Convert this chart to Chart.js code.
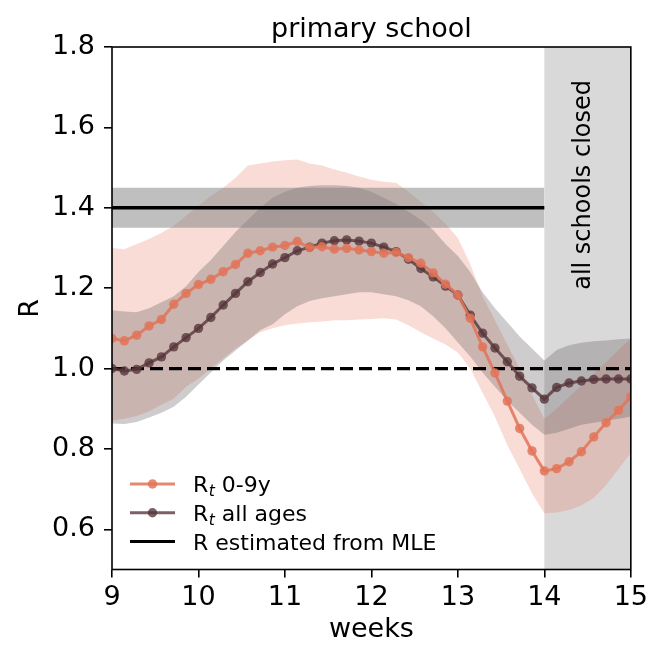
<!DOCTYPE html>
<html>
<head>
<meta charset="utf-8">
<script src="https://cdn.jsdelivr.net/npm/chart.js@4.4.1/dist/chart.umd.min.js"></script>
<style>
  html, body { margin: 0; padding: 0; background: #fff; }
  canvas { display: block; }
</style>
</head>
<body>
<canvas id="rtChart" width="652" height="646"></canvas>
<script>
const startWeek = 9;
const closureWeeks = [14, 15];
const mleWeeks = [9, 14];
const rMle = 1.4;
const rMleBand = [1.35, 1.45];
const rThreshold = 1.0;
const xTicks = [9, 10, 11, 12, 13, 14, 15];
const yTicks = [0.6, 0.8, 1.0, 1.2, 1.4, 1.6, 1.8];

// daily R_t for children 0-9y, with its interval
const rt09 = [1.075, 1.069, 1.083, 1.106, 1.122, 1.160, 1.187, 1.209, 1.222, 1.241,
  1.259, 1.287, 1.293, 1.302, 1.306, 1.316, 1.301, 1.303, 1.297, 1.299,
  1.295, 1.291, 1.287, 1.289, 1.276, 1.262, 1.238, 1.210, 1.183, 1.125,
  1.054, 0.989, 0.919, 0.851, 0.795, 0.745, 0.751, 0.768, 0.793, 0.830,
  0.865, 0.896, 0.930];
const rt09High = [1.300, 1.297, 1.310, 1.322, 1.337, 1.355, 1.380, 1.405, 1.430, 1.450,
  1.475, 1.505, 1.510, 1.515, 1.518, 1.520, 1.510, 1.505, 1.495, 1.487,
  1.478, 1.470, 1.465, 1.462, 1.440, 1.415, 1.390, 1.360, 1.325, 1.260,
  1.180, 1.120, 1.060, 1.000, 0.935, 0.875, 0.900, 0.930, 0.958, 0.987,
  1.016, 1.046, 1.075];
const rt09Low = [0.871, 0.875, 0.882, 0.893, 0.910, 0.925, 0.955, 0.975, 1.000, 1.025,
  1.050, 1.070, 1.090, 1.100, 1.108, 1.112, 1.115, 1.117, 1.120, 1.120,
  1.122, 1.123, 1.125, 1.122, 1.108, 1.090, 1.075, 1.060, 1.040, 1.000,
  0.940, 0.880, 0.810, 0.750, 0.690, 0.640, 0.642, 0.648, 0.660, 0.678,
  0.710, 0.750, 0.790];

// daily R_t for all ages, with its interval
const rtAll = [1.000, 0.994, 0.998, 1.014, 1.029, 1.054, 1.077, 1.100, 1.127, 1.158,
  1.187, 1.216, 1.239, 1.260, 1.276, 1.293, 1.302, 1.312, 1.318, 1.320,
  1.317, 1.312, 1.302, 1.291, 1.272, 1.249, 1.228, 1.205, 1.183, 1.133,
  1.088, 1.051, 1.017, 0.981, 0.952, 0.924, 0.953, 0.964, 0.969, 0.973,
  0.974, 0.974, 0.974];
const rtAllHigh = [1.145, 1.142, 1.140, 1.150, 1.165, 1.180, 1.205, 1.240, 1.270, 1.305,
  1.340, 1.370, 1.400, 1.425, 1.440, 1.450, 1.454, 1.456, 1.456, 1.454,
  1.450, 1.440, 1.425, 1.410, 1.390, 1.370, 1.345, 1.310, 1.280, 1.240,
  1.190, 1.150, 1.115, 1.080, 1.050, 1.020, 1.046, 1.058, 1.064, 1.068,
  1.070, 1.073, 1.075];
const rtAllLow = [0.863, 0.862, 0.867, 0.878, 0.890, 0.905, 0.930, 0.960, 0.990, 1.020,
  1.045, 1.070, 1.095, 1.110, 1.135, 1.155, 1.168, 1.175, 1.180, 1.185,
  1.190, 1.190, 1.185, 1.180, 1.170, 1.155, 1.130, 1.100, 1.065, 1.030,
  0.990, 0.955, 0.920, 0.890, 0.860, 0.835, 0.840, 0.850, 0.860, 0.865,
  0.870, 0.875, 0.880];

const FONT = '"DejaVu Sans", "Liberation Sans", sans-serif';
const orange = 'rgba(226,116,88,0.85)';
const orangeBand = 'rgba(226,116,88,0.25)';
const dark = 'rgba(85,52,58,0.78)';
const darkBand = 'rgba(105,95,100,0.32)';

// one point per day
const weeks = rt09.map((_, day) => startWeek + day / 7);
const toPoints = vals => vals.map((y, i) => ({ x: weeks[i], y: y }));
const flat = (xs, y) => xs.map(x => ({ x: x, y: y }));

const bandStyle = { borderWidth: 0, borderColor: 'transparent', pointRadius: 0 };

const decorations = {
  id: 'decorations',
  beforeDatasetsDraw(chart) {
    const { ctx, chartArea: a, scales: { x } } = chart;
    const x0 = x.getPixelForValue(closureWeeks[0]);
    const x1 = x.getPixelForValue(closureWeeks[1]);
    ctx.save();
    ctx.fillStyle = '#d9d9d9';
    ctx.fillRect(x0, a.top, x1 - x0, a.bottom - a.top);
    ctx.translate(x0 + 46, a.top + 33);
    ctx.rotate(-Math.PI / 2);
    ctx.fillStyle = '#000';
    ctx.font = '24px ' + FONT;
    ctx.textAlign = 'right';
    ctx.textBaseline = 'alphabetic';
    ctx.fillText('all schools closed', 0, 0);
    ctx.restore();
  },
  afterDraw(chart) {
    const { ctx, chartArea: a } = chart;
    ctx.save();
    // frame
    ctx.strokeStyle = '#000';
    ctx.lineWidth = 1.6;
    ctx.strokeRect(a.left, a.top, a.right - a.left, a.bottom - a.top);

    // title
    ctx.fillStyle = '#000';
    ctx.font = '27px ' + FONT;
    ctx.textAlign = 'center';
    ctx.textBaseline = 'alphabetic';
    ctx.fillText('primary school', (a.left + a.right) / 2, a.top - 10);

    // legend
    const rows = [
      { color: orange, marker: true, main: 'R', sub: 't', rest: ' 0-9y' },
      { color: dark, marker: true, main: 'R', sub: 't', rest: ' all ages' },
      { color: '#000', marker: false, main: 'R estimated from MLE' }
    ];
    const lx0 = a.left + 18, lx1 = a.left + 63, tx = a.left + 81;
    rows.forEach((row, i) => {
      const y = 484 + i * 28.8;
      ctx.strokeStyle = row.color;
      ctx.lineWidth = 3;
      ctx.beginPath();
      ctx.moveTo(lx0, y);
      ctx.lineTo(lx1, y);
      ctx.stroke();
      if (row.marker) {
        ctx.fillStyle = row.color;
        ctx.beginPath();
        ctx.arc((lx0 + lx1) / 2, y, 4.7, 0, Math.PI * 2);
        ctx.fill();
      }
      ctx.fillStyle = '#000';
      ctx.textAlign = 'left';
      ctx.font = '22px ' + FONT;
      let cx = tx;
      ctx.fillText(row.main, cx, y + 8);
      cx += ctx.measureText(row.main).width;
      if (row.sub) {
        ctx.font = 'italic 15.5px ' + FONT;
        ctx.fillText(row.sub, cx + 0.5, y + 12);
        cx += ctx.measureText(row.sub).width + 0.5;
        ctx.font = '22px ' + FONT;
        ctx.fillText(row.rest, cx, y + 8);
      }
    });
    ctx.restore();
  }
};

const tickFont = { family: FONT, size: 27 };
const grid = { drawOnChartArea: false, color: '#000', lineWidth: 1.6, tickLength: 8 };

new Chart(document.getElementById('rtChart'), {
  type: 'line',
  data: {
    datasets: [
      { label: 'rt09High', data: toPoints(rt09High), fill: '+1', backgroundColor: orangeBand, order: 6, ...bandStyle },
      { label: 'rt09Low', data: toPoints(rt09Low), fill: false, order: 6, ...bandStyle },
      { label: 'rtAllHigh', data: toPoints(rtAllHigh), fill: '+1', backgroundColor: darkBand, order: 5, ...bandStyle },
      { label: 'rtAllLow', data: toPoints(rtAllLow), fill: false, order: 5, ...bandStyle },
      { label: 'mleHigh', data: flat(mleWeeks, rMleBand[1]), fill: '+1', backgroundColor: 'rgba(128,128,128,0.5)', order: 4, ...bandStyle },
      { label: 'mleLow', data: flat(mleWeeks, rMleBand[0]), fill: false, order: 4, ...bandStyle },
      { label: 'R estimated from MLE', data: flat(mleWeeks, rMle), borderColor: '#000', borderWidth: 3.3, pointRadius: 0, order: 3 },
      { label: 'R = 1', data: flat([xTicks[0], xTicks[xTicks.length - 1]], rThreshold), borderColor: '#000', borderWidth: 3.3, borderDash: [13, 6], pointRadius: 0, order: 2 },
      { label: 'Rt all ages', data: toPoints(rtAll), borderColor: dark, backgroundColor: dark, borderWidth: 3, pointRadius: 4.7, pointBorderWidth: 0, order: 1 },
      { label: 'Rt 0-9y', data: toPoints(rt09), borderColor: orange, backgroundColor: orange, borderWidth: 3, pointRadius: 4.7, pointBorderWidth: 0, order: 0 }
    ]
  },
  options: {
    responsive: false,
    devicePixelRatio: 1,
    animation: false,
    events: [],
    layout: { padding: { left: 0, right: 20, top: 47, bottom: 0 } },
    plugins: {
      legend: { display: false },
      tooltip: { enabled: false }
    },
    scales: {
      x: {
        type: 'linear',
        min: 9,
        max: 15,
        afterFit: s => { s.height = 76.5; },
        afterBuildTicks: s => { s.ticks = xTicks.map(v => ({ value: v })); },
        ticks: { color: '#000', font: tickFont, padding: 4, maxRotation: 0, autoSkip: false, callback: v => String(v) },
        grid: grid,
        border: { display: false },
        title: { display: true, text: 'weeks', color: '#000', font: tickFont, padding: { top: 0, bottom: 0 } }
      },
      y: {
        min: 0.5,
        max: 1.8,
        afterFit: s => { s.width = 112; },
        afterBuildTicks: s => { s.ticks = yTicks.map(v => ({ value: v })); },
        ticks: { color: '#000', font: tickFont, padding: 9, autoSkip: false, callback: v => v.toFixed(1) },
        grid: grid,
        border: { display: false },
        title: { display: true, text: 'R', color: '#000', font: tickFont, padding: { top: 15, bottom: 0 } }
      }
    }
  },
  plugins: [decorations]
});
</script>
</body>
</html>
